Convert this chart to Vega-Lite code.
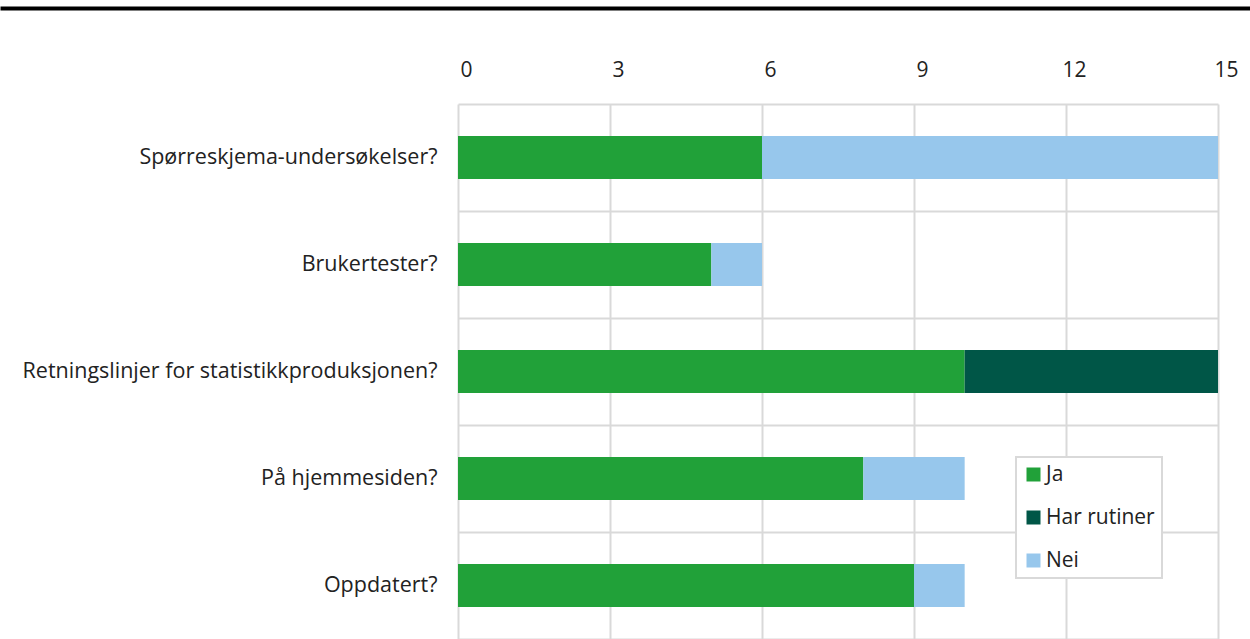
{
  "$schema": "https://vega.github.io/schema/vega-lite/v6.json",
  "width": 760,
  "height": 535,
  "autosize": {"type": "none"},
  "padding": {"left": 458, "top": 104, "right": 32, "bottom": 0},
  "config": {
    "font": "Open Sans",
    "view": {"stroke": null},
    "axis": {"labelFont": "Open Sans", "labelColor": "#222222", "gridColor": "#d9d9d9", "gridWidth": 2},
    "legend": {"fillColor": "white", "strokeColor": "#d9d9d9", "strokeWidth": 2, "padding": 7,
               "symbolType": "square", "symbolSize": 196, "symbolStrokeWidth": 0,
               "labelFontSize": 21, "labelColor": "#222222", "labelOffset": 2, "rowPadding": 21, "labelFont": "Open Sans"}
  },
  "data": {
    "values": [
      {"q": "Spørreskjema-undersøkelser?", "svar": "Ja", "ord": 1, "value": 6},
      {"q": "Spørreskjema-undersøkelser?", "svar": "Nei", "ord": 3, "value": 9},
      {"q": "Brukertester?", "svar": "Ja", "ord": 1, "value": 5},
      {"q": "Brukertester?", "svar": "Nei", "ord": 3, "value": 1},
      {"q": "Retningslinjer for statistikkproduksjonen?", "svar": "Ja", "ord": 1, "value": 10},
      {"q": "Retningslinjer for statistikkproduksjonen?", "svar": "Har rutiner", "ord": 2, "value": 5},
      {"q": "På hjemmesiden?", "svar": "Ja", "ord": 1, "value": 8},
      {"q": "På hjemmesiden?", "svar": "Nei", "ord": 3, "value": 2},
      {"q": "Oppdatert?", "svar": "Ja", "ord": 1, "value": 9},
      {"q": "Oppdatert?", "svar": "Nei", "ord": 3, "value": 1}
    ]
  },
  "layer": [
    {
      "mark": {"type": "bar", "height": {"band": 0.4}},
      "encoding": {
        "y": {
          "field": "q", "type": "nominal", "sort": null,
          "scale": {"paddingInner": 0, "paddingOuter": 0},
          "axis": {"title": null, "ticks": false, "domain": false, "grid": true, "tickBand": "extent",
                   "labelFontSize": 21.5, "labelPadding": 21, "labelLimit": 600}
        },
        "x": {
          "field": "value", "type": "quantitative", "stack": "zero",
          "scale": {"domain": [0, 15], "nice": false},
          "axis": {"orient": "top", "title": null, "values": [0, 3, 6, 9, 12, 15], "ticks": false, "domain": false,
                   "labelFontSize": 21, "labelPadding": 24, "labelOffset": 8, "labelFlush": false, "grid": true}
        },
        "color": {
          "field": "svar", "type": "nominal",
          "scale": {"domain": ["Ja", "Har rutiner", "Nei"], "range": ["#21a139", "#005647", "#97c7ec"]},
          "legend": {"title": null, "orient": "none", "legendX": 558, "legendY": 353}
        },
        "order": {"field": "ord", "type": "quantitative"}
      }
    },
    {
      "mark": {"type": "bar", "opacity": 0},
      "encoding": {
        "x": {
          "field": "value", "type": "quantitative", "stack": null,
          "scale": {"domain": [0, 15], "nice": false, "range": [-458, 792]},
          "axis": {"orient": "top", "offset": 96, "title": null, "labels": false, "ticks": false, "grid": false,
                   "domain": true, "domainColor": "#000000", "domainWidth": 4}
        }
      }
    }
  ],
  "resolve": {"scale": {"x": "independent"}, "axis": {"x": "independent"}}
}
